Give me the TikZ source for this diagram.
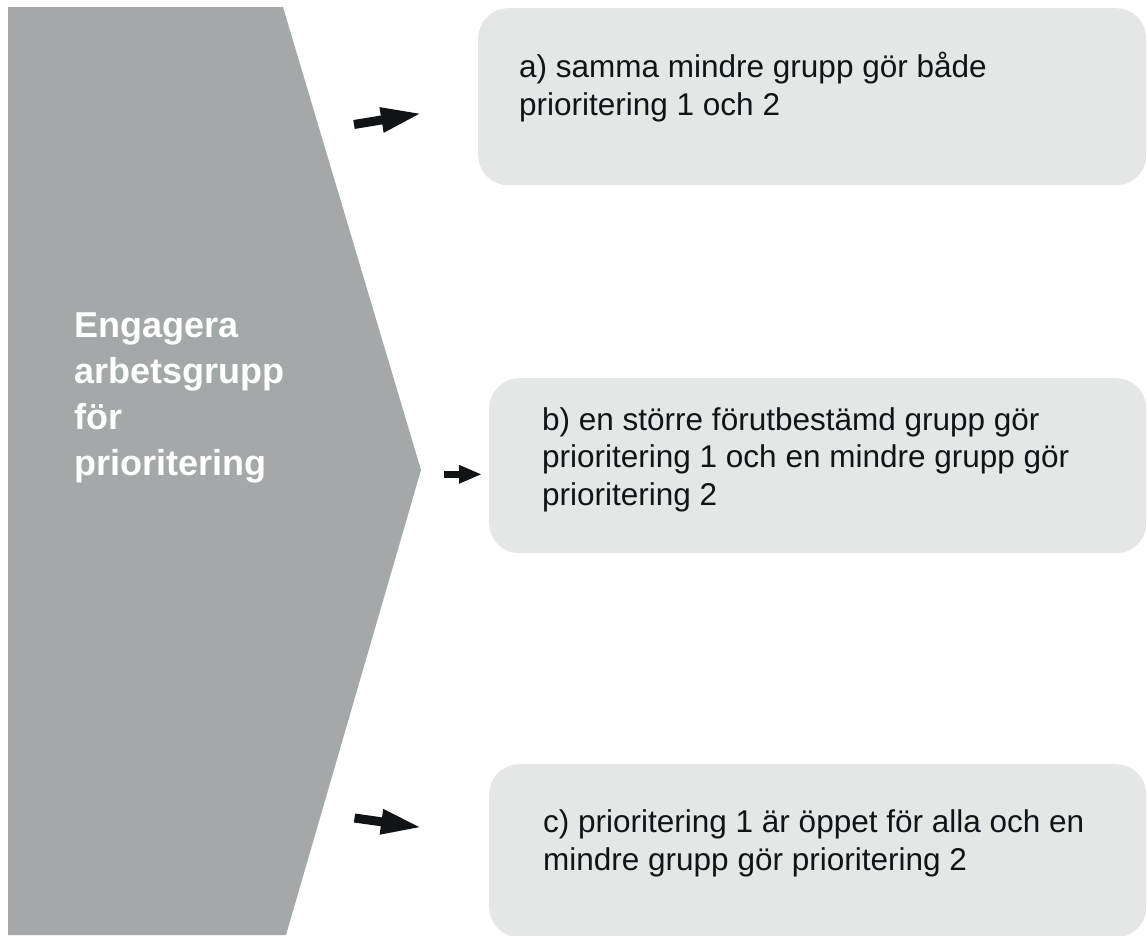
\documentclass[tikz,border=0pt]{standalone}
\usepackage{fontspec}
\setmainfont{Liberation Sans}
\usetikzlibrary{arrows.meta}
\definecolor{chev}{HTML}{A5A8A9}
\definecolor{boxfill}{HTML}{E5E6E6}
\definecolor{ink}{HTML}{111417}
\tikzset{
  optbox/.style={fill=boxfill, draw=none, rounded corners=30pt, inner sep=0pt, anchor=north west},
  opttext/.style={anchor=base west, inner sep=0pt, align=left, text=ink,
    font=\fontsize{31.5}{37.5}\selectfont},
  titletext/.style={anchor=base west, inner sep=0pt, align=left, text=white,
    font=\bfseries\fontsize{36}{45.7}\selectfont},
  bigarrow/.style={draw=ink, line width=9pt, line cap=butt,
    -{Triangle[length=41pt,width=23pt]}},
  smallarrow/.style={draw=ink, line width=6.7pt, line cap=butt,
    -{Triangle[length=23pt,width=17pt]}}
}
\begin{document}
\begin{tikzpicture}[x=1pt,y=-1pt]
\useasboundingbox (0,0) rectangle (1147,935);
% chevron
\fill[chev] (8,7) -- (283,7) -- (421,470) -- (286,935) -- (8,935) -- cycle;
% text nodes: base anchor = baseline of the last line
\node[titletext] (title) at (74,475) {Engagera\\arbetsgrupp\\för\\prioritering};
% boxes
\node[optbox, minimum width=668pt, minimum height=177pt] (boxA) at (478,8) {};
\node[optbox, minimum width=657pt, minimum height=175pt] (boxB) at (489,378) {};
\node[optbox, minimum width=657pt, minimum height=173pt] (boxC) at (489,764) {};
\node[opttext] (txtA) at (519,115) {a) samma mindre grupp gör både\\prioritering 1 och 2};
\node[opttext] (txtB) at (542,505) {b) en större förutbestämd grupp gör\\prioritering 1 och en mindre grupp gör\\prioritering 2};
\node[opttext] (txtC) at (543,870) {c) prioritering 1 är öppet för alla och en\\mindre grupp gör prioritering 2};
% arrows
\coordinate (a1) at (354,124.5);
\coordinate (a2) at (422,113.3);
\coordinate (b1) at (444,474.3);
\coordinate (b2) at (482,474.3);
\coordinate (c1) at (354.5,818);
\coordinate (c2) at (422,827.5);
\draw[bigarrow] (a1) -- (a2);
\draw[smallarrow] (b1) -- (b2);
\draw[bigarrow] (c1) -- (c2);
\end{tikzpicture}
\end{document}
